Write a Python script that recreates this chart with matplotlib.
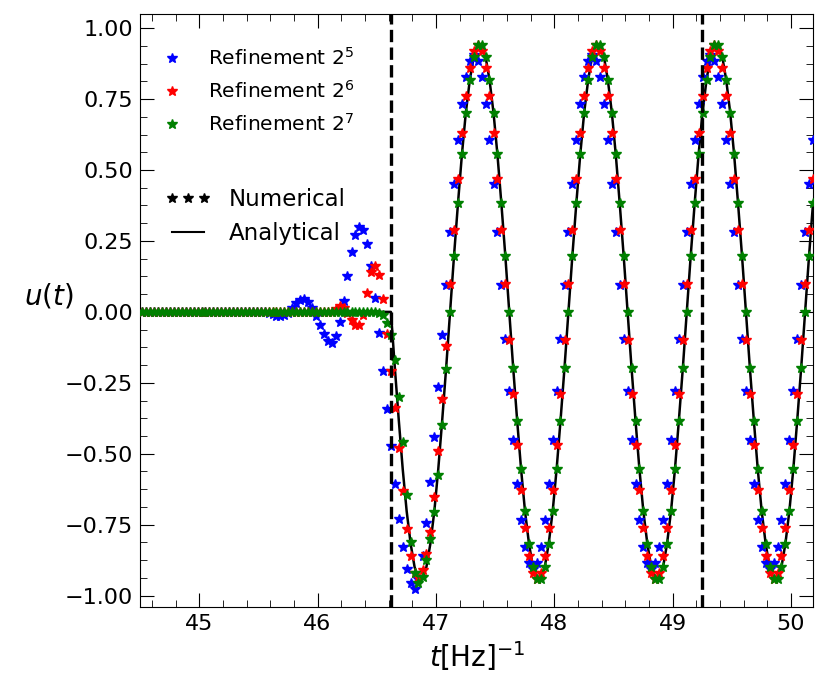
import matplotlib
matplotlib.use('Agg')
import matplotlib.pyplot as plt
from matplotlib.lines import Line2D
from matplotlib.ticker import AutoMinorLocator

# sample times (same output grid for every run)
t = [44.52, 44.553, 44.587, 44.62, 44.653, 44.687, 44.72, 44.753, 44.787,
     44.82, 44.853, 44.887, 44.92, 44.953, 44.987, 45.02, 45.053, 45.087,
     45.12, 45.153, 45.187, 45.22, 45.253, 45.287, 45.32, 45.353, 45.387,
     45.42, 45.453, 45.487, 45.52, 45.553, 45.587, 45.62, 45.653, 45.687,
     45.72, 45.753, 45.787, 45.82, 45.853, 45.887, 45.92, 45.953, 45.987,
     46.02, 46.053, 46.087, 46.12, 46.153, 46.187, 46.22, 46.253, 46.287,
     46.32, 46.353, 46.387, 46.42, 46.453, 46.487, 46.52, 46.553, 46.587,
     46.62, 46.653, 46.687, 46.72, 46.753, 46.787, 46.82, 46.853, 46.887,
     46.92, 46.953, 46.987, 47.02, 47.053, 47.087, 47.12, 47.153, 47.187,
     47.22, 47.253, 47.287, 47.32, 47.353, 47.387, 47.42, 47.453, 47.487,
     47.52, 47.553, 47.587, 47.62, 47.653, 47.687, 47.72, 47.753, 47.787,
     47.82, 47.853, 47.887, 47.92, 47.953, 47.987, 48.02, 48.053, 48.087,
     48.12, 48.153, 48.187, 48.22, 48.253, 48.287, 48.32, 48.353, 48.387,
     48.42, 48.453, 48.487, 48.52, 48.553, 48.587, 48.62, 48.653, 48.687,
     48.72, 48.753, 48.787, 48.82, 48.853, 48.887, 48.92, 48.953, 48.987,
     49.02, 49.053, 49.087, 49.12, 49.153, 49.187, 49.22, 49.253, 49.287,
     49.32, 49.353, 49.387, 49.42, 49.453, 49.487, 49.52, 49.553, 49.587,
     49.62, 49.653, 49.687, 49.72, 49.753, 49.787, 49.82, 49.853, 49.887,
     49.92, 49.953, 49.987, 50.02, 50.053, 50.087, 50.12, 50.153, 50.187]

# refinement 2^5
u_32 = [0, 0, 0, 0, 0, 0, 0, 0, 0,
        0, 0, 0, 0, 0, 0, 0, 0, 0,
        0, 0, 0, 0, 0, 0, 0, 0, 0,
        0, 0, 0, 0, 0, -0.004, -0.008, -0.013, -0.015,
        -0.012, -0.005, 0.012, 0.03, 0.042, 0.045, 0.035, 0.012, -0.015,
        -0.045, -0.078, -0.103, -0.108, -0.085, -0.035, 0.04, 0.125, 0.21,
        0.27, 0.298, 0.29, 0.24, 0.16, 0.05, -0.075, -0.207, -0.342,
        -0.474, -0.606, -0.73, -0.83, -0.905, -0.955, -0.975, -0.94, -0.86,
        -0.745, -0.60, -0.44, -0.265, -0.08, 0.095, 0.280, 0.452, 0.606,
        0.732, 0.827, 0.885, 0.905, 0.885, 0.827, 0.732, 0.606, 0.452,
        0.280, 0.095, -0.095, -0.280, -0.452, -0.606, -0.732, -0.827, -0.885,
        -0.905, -0.885, -0.827, -0.732, -0.606, -0.452, -0.280, -0.095, 0.095,
        0.280, 0.452, 0.606, 0.732, 0.827, 0.885, 0.905, 0.885, 0.827,
        0.732, 0.606, 0.452, 0.280, 0.095, -0.095, -0.280, -0.452, -0.606,
        -0.732, -0.827, -0.885, -0.905, -0.885, -0.827, -0.732, -0.606, -0.452,
        -0.280, -0.095, 0.095, 0.280, 0.452, 0.606, 0.732, 0.827, 0.885,
        0.905, 0.885, 0.827, 0.732, 0.606, 0.452, 0.280, 0.095, -0.095,
        -0.280, -0.452, -0.606, -0.732, -0.827, -0.885, -0.905, -0.885, -0.827,
        -0.732, -0.606, -0.452, -0.280, -0.095, 0.095, 0.280, 0.452, 0.606]

# refinement 2^6
u_64 = [0, 0, 0, 0, 0, 0, 0, 0, 0,
        0, 0, 0, 0, 0, 0, 0, 0, 0,
        0, 0, 0, 0, 0, 0, 0, 0, 0,
        0, 0, 0, 0, 0, 0, 0, 0, 0,
        0, 0, 0, 0, 0, 0, 0, 0, 0,
        0, 0, 0, 0, 0.01, 0.02, 0.015, -0.005, -0.03,
        -0.045, -0.045, -0.01, 0.065, 0.14, 0.163, 0.13, 0.045, -0.077,
        -0.21, -0.34, -0.48, -0.63, -0.764, -0.862, -0.92, -0.934, -0.91,
        -0.855, -0.776, -0.653, -0.49, -0.306, -0.12, 0.098, 0.290, 0.470,
        0.629, 0.760, 0.859, 0.919, 0.940, 0.919, 0.859, 0.760, 0.629,
        0.470, 0.290, 0.098, -0.098, -0.290, -0.470, -0.629, -0.760, -0.859,
        -0.919, -0.940, -0.919, -0.859, -0.760, -0.629, -0.470, -0.290, -0.098,
        0.098, 0.290, 0.470, 0.629, 0.760, 0.859, 0.919, 0.940, 0.919,
        0.859, 0.760, 0.629, 0.470, 0.290, 0.098, -0.098, -0.290, -0.470,
        -0.629, -0.760, -0.859, -0.919, -0.940, -0.919, -0.859, -0.760, -0.629,
        -0.470, -0.290, -0.098, 0.098, 0.290, 0.470, 0.629, 0.760, 0.859,
        0.919, 0.940, 0.919, 0.859, 0.760, 0.629, 0.470, 0.290, 0.098,
        -0.098, -0.290, -0.470, -0.629, -0.760, -0.859, -0.919, -0.940, -0.919,
        -0.859, -0.760, -0.629, -0.470, -0.290, -0.098, 0.098, 0.290, 0.470]

# refinement 2^7
u_128 = [0, 0, 0, 0, 0, 0, 0, 0, 0,
         0, 0, 0, 0, 0, 0, 0, 0, 0,
         0, 0, 0, 0, 0, 0, 0, 0, 0,
         0, 0, 0, 0, 0, 0, 0, 0, 0,
         0, 0, 0, 0, 0, 0, 0, 0, 0,
         0, 0, 0, 0, 0, 0, 0, 0, 0,
         0, 0, 0, 0, 0, 0, -0.005, -0.012, -0.04,
         -0.083, -0.17, -0.30, -0.46, -0.645, -0.81, -0.92, -0.955, -0.935,
         -0.875, -0.80, -0.705, -0.575, -0.40, -0.20, 0.0, 0.196, 0.384,
         0.555, 0.702, 0.818, 0.899, 0.940, 0.940, 0.899, 0.818, 0.702,
         0.555, 0.384, 0.196, 0.0, -0.196, -0.384, -0.555, -0.702, -0.818,
         -0.899, -0.940, -0.940, -0.899, -0.818, -0.702, -0.555, -0.384, -0.196,
         0.0, 0.196, 0.384, 0.555, 0.702, 0.818, 0.899, 0.940, 0.940,
         0.899, 0.818, 0.702, 0.555, 0.384, 0.196, 0.0, -0.196, -0.384,
         -0.555, -0.702, -0.818, -0.899, -0.940, -0.940, -0.899, -0.818, -0.702,
         -0.555, -0.384, -0.196, 0.0, 0.196, 0.384, 0.555, 0.702, 0.818,
         0.899, 0.940, 0.940, 0.899, 0.818, 0.702, 0.555, 0.384, 0.196,
         0.0, -0.196, -0.384, -0.555, -0.702, -0.818, -0.899, -0.940, -0.940,
         -0.899, -0.818, -0.702, -0.555, -0.384, -0.196, 0.0, 0.196, 0.384]

# analytical solution
u_exact = [0, 0, 0, 0, 0, 0, 0, 0, 0,
           0, 0, 0, 0, 0, 0, 0, 0, 0,
           0, 0, 0, 0, 0, 0, 0, 0, 0,
           0, 0, 0, 0, 0, 0, 0, 0, 0,
           0, 0, 0, 0, 0, 0, 0, 0, 0,
           0, 0, 0, 0, 0, 0, 0, 0, 0,
           0, 0, 0, 0, 0, 0, 0, 0, 0,
           0.0, -0.196, -0.384, -0.555, -0.702, -0.818, -0.899, -0.940, -0.940,
           -0.899, -0.818, -0.702, -0.555, -0.384, -0.196, 0.0, 0.196, 0.384,
           0.555, 0.702, 0.818, 0.899, 0.940, 0.940, 0.899, 0.818, 0.702,
           0.555, 0.384, 0.196, 0.0, -0.196, -0.384, -0.555, -0.702, -0.818,
           -0.899, -0.940, -0.940, -0.899, -0.818, -0.702, -0.555, -0.384, -0.196,
           0.0, 0.196, 0.384, 0.555, 0.702, 0.818, 0.899, 0.940, 0.940,
           0.899, 0.818, 0.702, 0.555, 0.384, 0.196, 0.0, -0.196, -0.384,
           -0.555, -0.702, -0.818, -0.899, -0.940, -0.940, -0.899, -0.818, -0.702,
           -0.555, -0.384, -0.196, 0.0, 0.196, 0.384, 0.555, 0.702, 0.818,
           0.899, 0.940, 0.940, 0.899, 0.818, 0.702, 0.555, 0.384, 0.196,
           0.0, -0.196, -0.384, -0.555, -0.702, -0.818, -0.899, -0.940, -0.940,
           -0.899, -0.818, -0.702, -0.555, -0.384, -0.196, 0.0, 0.196, 0.384]

t_marks = [46.62, 49.25]  # dashed vertical lines
labels = ['Refinement $2^5$', 'Refinement $2^6$', 'Refinement $2^7$']

fig = plt.figure(figsize=(8.3, 6.98), dpi=100)
ax = fig.add_axes([0.1687, 0.1304, 0.8113, 0.8496])

ax.plot(t, u_exact, '-', color='k', lw=1.8, zorder=2)
h1, = ax.plot(t, u_32, '*', color='b', ms=7.5, ls='none', zorder=3)
h2, = ax.plot(t, u_64, '*', color='r', ms=7.5, ls='none', zorder=4)
h3, = ax.plot(t, u_128, '*', color='g', ms=7.5, ls='none', zorder=5)
for tm in t_marks:
    ax.axvline(tm, color='k', ls='--', lw=2.4, zorder=6)

ax.set_xlim(44.5, 50.19)
ax.set_ylim(-1.04, 1.05)
ax.set_yticks([-1.0, -0.75, -0.5, -0.25, 0.0, 0.25, 0.5, 0.75, 1.0])
ax.xaxis.set_minor_locator(AutoMinorLocator(5))
ax.yaxis.set_minor_locator(AutoMinorLocator(4))
ax.tick_params(which='both', direction='in', top=True, right=True, labelsize=16)
ax.tick_params(which='major', length=10, pad=5)
ax.tick_params(which='minor', length=5)

ax.set_xlabel('$t$[Hz]$^{-1}$', fontsize=20)
ax.set_ylabel('$u(t)$', fontsize=20, rotation=0)
ax.yaxis.set_label_coords(-0.135, 0.5)

leg1 = ax.legend([h1, h2, h3], labels, loc='upper left', numpoints=1,
                 bbox_to_anchor=(0.005, 0.958), borderaxespad=0,
                 frameon=False, fontsize=14.5, labelspacing=0.55)
ax.add_artist(leg1)
num = Line2D([], [], ls='none', marker='*', color='k', ms=7.5)
ana = Line2D([], [], ls='-', color='k', lw=1.5)
ax.legend([num, ana], ['Numerical', 'Analytical'], loc='upper left', numpoints=3,
          bbox_to_anchor=(0.023, 0.722), borderaxespad=0, handlelength=2.0,
          frameon=False, fontsize=16.5, labelspacing=0.5)

fig.savefig('out.png', dpi=100)
